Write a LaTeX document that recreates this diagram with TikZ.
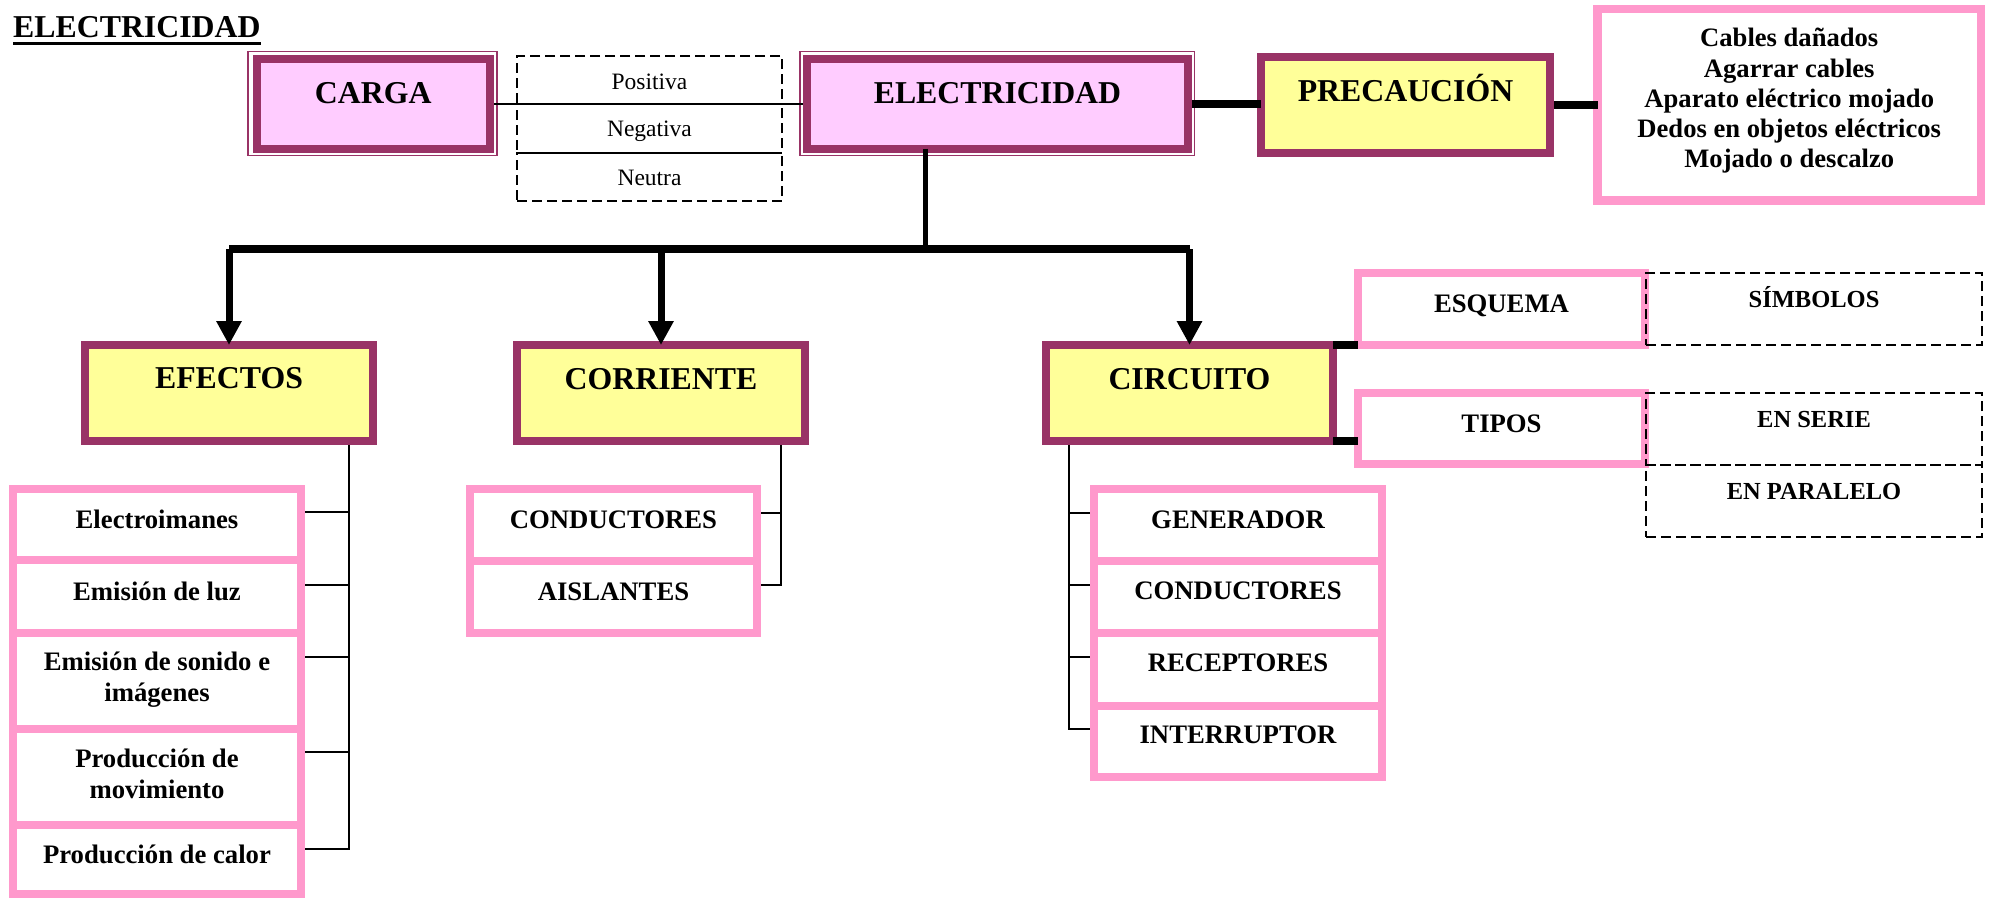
\documentclass[tikz,border=0pt]{standalone}
\usepackage{fontspec}
\setmainfont{Liberation Serif}
\usetikzlibrary{arrows.meta}
\definecolor{plum}{HTML}{993366}
\definecolor{pinkfill}{HTML}{FFCCFF}
\definecolor{yel}{HTML}{FFFF99}
\definecolor{pinkb}{HTML}{FF99CC}
\pgfdeclarelayer{bg}
\pgfsetlayers{bg,main}
\begin{document}
\begin{tikzpicture}[x=1pt,y=-1pt,
 ybox/.style={draw=plum, line width=8pt, fill=yel, inner sep=0pt, outer sep=0pt},
 pbox/.style={draw=plum, line width=8pt, fill=pinkfill, inner sep=0pt, outer sep=0pt},
 lbox/.style={draw=pinkb, line width=8pt, fill=white, inner sep=0pt, outer sep=0pt},
 dbox/.style={draw=black, line width=2pt, dash pattern=on 10pt off 5pt, inner sep=0pt, outer sep=0pt},
 outerframe/.style={draw=plum, line width=1.5pt},
 tbig/.style={font=\fontsize{31.8}{38}\selectfont\bfseries, inner sep=0pt, anchor=base},
 tmed/.style={font=\fontsize{26.7}{31}\selectfont\bfseries, inner sep=0pt, anchor=base},
 tsm/.style={font=\fontsize{24.5}{29}\selectfont\bfseries, inner sep=0pt, anchor=base},
 treg/.style={font=\fontsize{23.5}{28}\selectfont, inner sep=0pt, anchor=base},
 lnk/.style={line width=2pt},
 bold/.style={line width=8pt},
 arr/.style={line width=7pt, -{Triangle[width=24pt,length=24pt]}},
]
\useasboundingbox (0,0) rectangle (1991,898);

% ---------- boxes ----------
\node[pbox, minimum width=233.5pt, minimum height=89.5pt] (carga) at (373.25,103.75) {};
\node[pbox, minimum width=381pt, minimum height=89.5pt] (elec) at (997.5,103.75) {};
\node[ybox, minimum width=289pt, minimum height=96pt] (prec) at (1405.5,105) {};
\node[lbox, line width=8.5pt, minimum width=383.5pt, minimum height=191.5pt] (cables) at (1789.25,104.75) {};
\node[dbox, minimum width=265pt, minimum height=48pt] (pos) at (649.5,80) {};
\node[dbox, minimum width=265pt, minimum height=49pt] (neg) at (649.5,128.5) {};
\node[dbox, minimum width=265pt, minimum height=48pt] (neu) at (649.5,177) {};
\draw[lnk] (neg.south west) -- (neg.south east);

\node[ybox, minimum width=288pt, minimum height=96pt] (efectos) at (229,393) {};
\node[ybox, minimum width=288pt, minimum height=96pt] (corriente) at (661,393) {};
\node[ybox, minimum width=287pt, minimum height=96pt] (circuito) at (1189.5,393) {};

\node[lbox, minimum width=288pt, minimum height=71pt] (e1) at (157,524.5) {};
\node[lbox, minimum width=288pt, minimum height=73pt] (e2) at (157,596.5) {};
\node[lbox, minimum width=288pt, minimum height=96pt] (e3) at (157,681) {};
\node[lbox, minimum width=288pt, minimum height=96pt] (e4) at (157,777) {};
\node[lbox, minimum width=288pt, minimum height=69pt] (e5) at (157,859.5) {};

\node[lbox, minimum width=287pt, minimum height=72pt] (c1) at (613.5,525) {};
\node[lbox, minimum width=287pt, minimum height=72pt] (c2) at (613.5,597) {};

\node[lbox, minimum width=288pt, minimum height=72pt] (k1) at (1238,525) {};
\node[lbox, minimum width=288pt, minimum height=72pt] (k2) at (1238,597) {};
\node[lbox, minimum width=288pt, minimum height=73pt] (k3) at (1238,669.5) {};
\node[lbox, minimum width=288pt, minimum height=71pt] (k4) at (1238,741.5) {};

\node[lbox, minimum width=287pt, minimum height=72pt] (esquema) at (1501.5,309) {};
\node[lbox, minimum width=287pt, minimum height=71pt] (tipos) at (1501.5,428.5) {};
\node[dbox, minimum width=336pt, minimum height=72pt] (simbolos) at (1814,309) {};
\node[dbox, minimum width=336pt, minimum height=72pt] (serie) at (1814,429) {};
\node[dbox, minimum width=336pt, minimum height=72pt] (paralelo) at (1814,501) {};

% ---------- connectors under the boxes ----------
\begin{pgfonlayer}{bg}
\fill[white] (0,0) rectangle (1991,898);
\draw[lnk] ([xshift=-24pt]efectos.south east) |- ([yshift=12.5pt]e1.east);
\draw[lnk] ([xshift=-24pt]efectos.south east) |- ([yshift=11.5pt]e2.east);
\draw[lnk] ([xshift=-24pt]efectos.south east) |- ([yshift=24.5pt]e3.east);
\draw[lnk] ([xshift=-24pt]efectos.south east) |- ([yshift=25pt]e4.east);
\draw[lnk] ([xshift=-24pt]efectos.south east) |- ([yshift=10.5pt]e5.east);
\draw[lnk] ([xshift=-24pt]corriente.south east) |- ([yshift=12pt]c1.east);
\draw[lnk] ([xshift=-24pt]corriente.south east) |- ([yshift=12pt]c2.east);
\draw[lnk] ([xshift=23pt]circuito.south west) |- ([yshift=12pt]k1.west);
\draw[lnk] ([xshift=23pt]circuito.south west) |- ([yshift=12pt]k2.west);
\draw[lnk] ([xshift=23pt]circuito.south west) |- ([yshift=12.5pt]k3.west);
\draw[lnk] ([xshift=23pt]circuito.south west) |- ([yshift=12.5pt]k4.west);
\end{pgfonlayer}

% ---------- thin outer frames ----------
\draw[outerframe] ([shift={(-8.5pt,7.5pt)}]carga.north west) rectangle ([shift={(7pt,-7.2pt)}]carga.south east);
\draw[outerframe] ([shift={(-7pt,7.5pt)}]elec.north west) rectangle ([shift={(6.5pt,-7.2pt)}]elec.south east);

% ---------- connectors on top ----------
\coordinate (bus) at (925.5,249);
\draw[lnk] ([xshift=4pt]carga.east) -- ([xshift=-4pt]elec.west);
\draw[bold] ([xshift=4pt]elec.east) -- (elec.east -| prec.west);
\draw[bold] ([xshift=4pt]prec.east) -- (prec.east -| cables.west);
\draw[line width=5.5pt] ([xshift=-72pt]elec.south) -- ([xshift=-72pt]elec.south |- bus);
\draw[bold] (efectos.north |- bus) -- (circuito.north |- bus);
\draw[arr] (efectos.north |- bus) -- (efectos.north);
\draw[arr] (corriente.north |- bus) -- (corriente.north);
\draw[arr] (circuito.north |- bus) -- (circuito.north);
\draw[bold] (circuito.north east) -- (circuito.north east -| esquema.west);
\draw[bold] (circuito.south east) -- (circuito.south east -| tipos.west);

% ---------- texts ----------
\node[tbig, anchor=base west] (title) at (13,37) {ELECTRICIDAD};
\draw[line width=3pt] ([yshift=-6.5pt]title.base west) -- ([yshift=-6.5pt]title.base east);

\node[tbig] (tcarga) at ([yshift=0.75pt]carga.center) {CARGA};
\node[treg] (tpos) at ([yshift=-9.3pt]pos.center) {Positiva};
\node[treg] (tneg) at ([yshift=-8.2pt]neg.center) {Negativa};
\node[treg] (tneu) at ([yshift=-8pt]neu.center) {Neutra};
\node[tbig] (telec) at ([yshift=0.75pt]elec.center) {ELECTRICIDAD};
\node[tbig] (tprec) at ([yshift=4pt]prec.center) {PRECAUCIÓN};
\node[tmed, font=\fontsize{26.6}{30.3}\selectfont\bfseries] (tcables) at ([yshift=58pt]cables.center)
 {\begin{tabular}[t]{@{}c@{}}Cables dañados\\Agarrar cables\\Aparato eléctrico mojado\\Dedos en objetos eléctricos\\Mojado o descalzo\end{tabular}};

\node[tbig] (tefectos) at ([yshift=5pt]efectos.center) {EFECTOS};
\node[tbig] (tcorriente) at ([yshift=4pt]corriente.center) {CORRIENTE};
\node[tbig] (tcircuito) at ([yshift=4pt]circuito.center) {CIRCUITO};

\node[tmed] (te1) at ([yshift=-3.5pt]e1.center) {Electroimanes};
\node[tmed] (te2) at ([yshift=-3.5pt]e2.center) {Emisión de luz};
\node[tmed, font=\fontsize{26.7}{31.5}\selectfont\bfseries] (te3) at ([yshift=11pt]e3.center)
 {\begin{tabular}[t]{@{}c@{}}Emisión de sonido e\\imágenes\end{tabular}};
\node[tmed] (te4) at ([yshift=10pt]e4.center)
 {\begin{tabular}[t]{@{}c@{}}Producción de\\movimiento\end{tabular}};
\node[tmed] (te5) at ([yshift=-4.2pt]e5.center) {Producción de calor};

\node[tmed] (tc1) at ([yshift=-3pt]c1.center) {CONDUCTORES};
\node[tmed] (tc2) at ([yshift=-3pt]c2.center) {AISLANTES};

\node[tmed] (tk1) at ([yshift=-3pt]k1.center) {GENERADOR};
\node[tmed] (tk2) at ([yshift=-2pt]k2.center) {CONDUCTORES};
\node[tmed] (tk3) at ([yshift=-2.2pt]k3.center) {RECEPTORES};
\node[tmed] (tk4) at ([yshift=-1.5pt]k4.center) {INTERRUPTOR};

\node[tmed] (tesquema) at ([yshift=-3pt]esquema.center) {ESQUEMA};
\node[tmed] (ttipos) at ([yshift=-3.5pt]tipos.center) {TIPOS};
\node[tsm] (tsimbolos) at ([yshift=2pt]simbolos.center) {SÍMBOLOS};
\node[tsm] (tserie) at ([yshift=2pt]serie.center) {EN SERIE};
\node[tsm] (tparalelo) at ([yshift=2pt]paralelo.center) {EN PARALELO};
\end{tikzpicture}
\end{document}
